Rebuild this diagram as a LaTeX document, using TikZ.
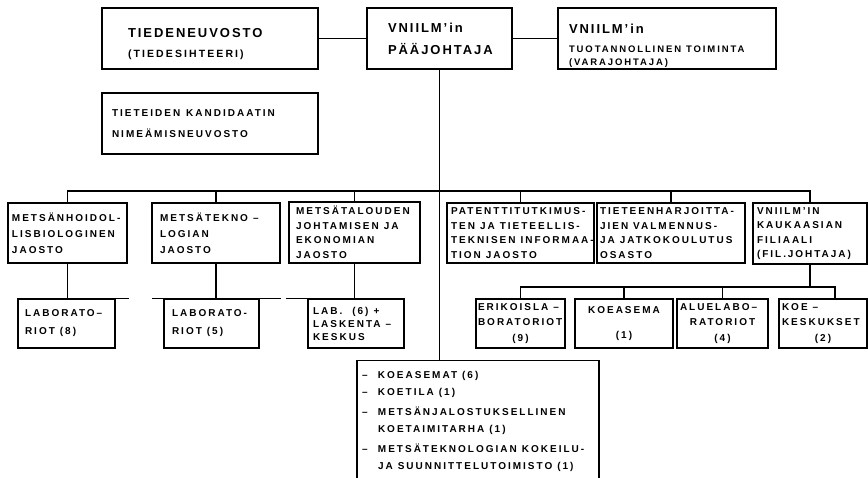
\documentclass[tikz,border=0pt]{standalone}
\usepackage{fontspec}
\newfontfamily\unitheadfont{Liberation Sans}[LetterSpace=15]
\newfontfamily\unitfont{Liberation Sans}[LetterSpace=20]
\exhyphenpenalty=10000
\newcommand{\gap}{\kern5pt}
\newcommand{\itemdash}{\makebox[16pt][l]{–}}
\newcommand{\itemcont}{\hspace*{16pt}}
\newcommand{\midline}[1]{\hfill#1\hfill\null}

\begin{document}
\begin{tikzpicture}[x=1pt,y=-1pt,line width=1.1pt,
	unit/.style={draw, inner ysep=0pt, align=left,
		font=\unitfont\bfseries\fontsize{10}{14.5}\selectfont},
	top/.style={unit, minimum height=61pt,
		font=\unitheadfont\bfseries\fontsize{13}{19}\selectfont},
	dept/.style={unit, minimum height=60pt},
	lab/.style={unit, minimum height=49pt}
	]
\useasboundingbox (0,0) rectangle (868,477);

% johto
\path (210,38.5) node[top, text width=164pt, inner xsep=26pt] (council)
		{\rule{0pt}{21pt}TIEDENEUVOSTO\\[1pt]{\unitfont\fontsize{10.5}{19}\selectfont (TIEDESIHTEERI)}}
	(439.5,38.5) node[top, text width=103pt, inner xsep=21pt] (director)
		{\rule{0pt}{11pt}VNIILM’in\\[3pt]PÄÄJOHTAJA}
	(667,38.5) node[top, text width=196pt, inner xsep=11pt] (deputy)
		{\rule{0pt}{23pt}VNIILM’in\\{\unitfont\fontsize{9.5}{19}\selectfont TUOTANNOLLINEN\gap TOIMINTA}\\[-6pt]{\unitfont\fontsize{9.5}{19}\selectfont (VARAJOHTAJA)}}
	(210,123.5) node[unit, minimum height=61pt, text width=196pt, inner xsep=10pt,
		font=\unitfont\bfseries\fontsize{10}{21}\selectfont] (degree)
		{TIETEIDEN\kern6pt KANDIDAATIN\\NIMEÄMISNEUVOSTO}
	;

% jaostot
\path (67.5,233) node[dept, text width=111pt, inner xsep=4pt,
		font=\unitfont\bfseries\fontsize{10}{16}\selectfont] (silv)
		{METSÄNHOIDOL-\\LISBIOLOGINEN\\JAOSTO}
	(216,233) node[dept, text width=112pt, inner xsep=8pt,
		font=\unitfont\bfseries\fontsize{10}{16}\selectfont] (tech)
		{METSÄTEKNO\gap –\\LOGIAN\\JAOSTO}
	(354.5,232.5) node[dept, minimum height=61pt, text width=117pt, inner xsep=7pt] (econ)
		{METSÄTALOUDEN\\JOHTAMISEN\gap JA\\EKONOMIAN\\JAOSTO}
	(520.5,233) node[dept, text width=139pt, inner xsep=4pt] (patent)
		{PATENTTITUTKIMUS-\\TEN\gap JA\gap TIETEELLIS-\\TEKNISEN\gap INFORMAA-\\TION\gap JAOSTO}
	(671,233) node[dept, text width=142pt, inner xsep=3pt] (training)
		{TIETEENHARJOITTA-\\JIEN\gap VALMENNUS-\\JA\gap JATKOKOULUTUS\\OSASTO}
	(810,233.5) node[dept, minimum height=61pt, text width=106pt, inner xsep=4pt] (branch)
		{VNIILM’IN\\KAUKAASIAN\\FILIAALI\\(FIL.\,JOHTAJA)}
	;

% laboratoriot
\path (66.5,323.5) node[lab, text width=83pt, inner xsep=7pt,
		font=\unitfont\bfseries\fontsize{10}{18}\selectfont] (lab1)
		{LABORATO–\\RIOT\gap (8)}
	(211.5,323.5) node[lab, text width=79pt, inner xsep=8pt,
		font=\unitfont\bfseries\fontsize{10}{18}\selectfont] (lab2)
		{LABORATO-\\RIOT\gap (5)}
	(356,323.5) node[lab, text width=86pt, inner xsep=5pt,
		font=\unitfont\bfseries\fontsize{10}{13}\selectfont] (lab3)
		{LAB.\gap\gap (6)\gap +\\LASKENTA\gap –\\KESKUS}
	(520.5,323.5) node[lab, text width=85pt, inner xsep=2pt,
		font=\unitfont\bfseries\fontsize{10}{15.5}\selectfont] (special)
		{ERIKOISLA\gap –\\BORATORIOT\\\midline{(9)}}
	(624,323.5) node[lab, text width=94pt, inner xsep=2pt, align=center,
		font=\unitfont\bfseries\fontsize{10}{15.5}\selectfont] (station)
		{KOEASEMA\\[9.5pt](1)}
	(722.5,323.5) node[lab, text width=85pt, inner xsep=3pt,
		font=\unitfont\bfseries\fontsize{10}{15.5}\selectfont] (regional)
		{ALUELABO–\\\midline{RATORIOT}\\\midline{(4)}}
	(823,323.5) node[lab, text width=82pt, inner xsep=3pt,
		font=\unitfont\bfseries\fontsize{10}{15.5}\selectfont] (centres)
		{KOE\gap –\\KESKUKSET\\\midline{(2)}}
	;
\node[unit, anchor=north, text width=232pt, inner xsep=5pt, inner ysep=11pt,
	font=\unitfont\bfseries\fontsize{10}{17}\selectfont] (stations) at (478,360)
	{\itemdash KOEASEMAT\gap (6)\\
	 \itemdash KOETILA\gap (1)\\[3pt]
	 \itemdash METSÄNJALOSTUKSELLINEN\\
	 \itemcont KOETAIMITARHA\gap (1)\\[3pt]
	 \itemdash METSÄTEKNOLOGIAN\gap KOKEILU-\\
	 \itemcont JA\gap SUUNNITTELUTOIMISTO\gap (1)};

% yhteydet
\coordinate (bus) at (439,191);
\coordinate (subbus) at (812,287);
\draw (council) -- (director);
\draw (director) -- (deputy);
\draw (director.south) -- (director.south |- stations.north);
\draw (silv.north) -- (silv.north |- bus) -- (branch.north |- bus) -- (branch.north);
\foreach \n in {tech,econ,patent,training}
	\draw (\n.north) -- (\n.north |- bus);
\draw (silv.south) -- (silv.south |- lab1.north);
\draw (tech.south) -- (tech.south |- lab2.north);
\draw (econ.south) -- (econ.south |- lab3.north);
\draw (lab1.north west) -- ([xshift=13pt]lab1.north east);
\draw ([xshift=-11pt]lab2.north west) -- ([xshift=21pt]lab2.north east);
\draw ([xshift=-21pt]lab3.north west) -- (lab3.north east);
\draw (branch.south) -- (branch.south |- subbus);
\draw (special.north) -- (special.north |- subbus)
	-- ([xshift=12pt]centres.north |- subbus) -- ([xshift=12pt]centres.north);
\foreach \n in {station,regional}
	\draw (\n.north) -- (\n.north |- subbus);
\end{tikzpicture}
\end{document}
